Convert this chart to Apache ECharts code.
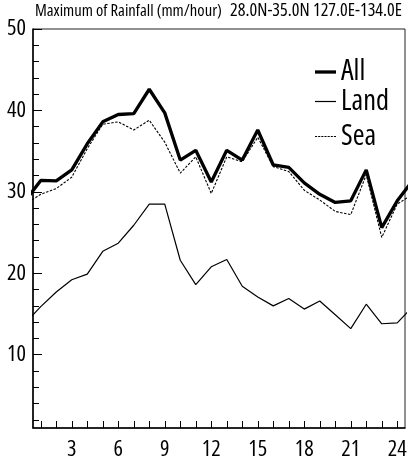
<!DOCTYPE html>
<html>
<head>
<meta charset="utf-8">
<script src="https://cdn.jsdelivr.net/npm/echarts@6/dist/echarts.min.js"></script>
<style>
html,body{margin:0;padding:0;background:#fff;}
#c{width:411px;height:461px;}
</style>
</head>
<body>
<div id="c"></div>
<script>
const hours = [1,2,3,4,5,6,7,8,9,10,11,12,13,14,15,16,17,18,19,20,21,22,23,24];
const allVals  = [31.4,31.35,32.7,35.9,38.6,39.5,39.6,42.6,39.7,33.9,35.1,31.2,35.1,33.9,37.6,33.3,33.0,31.1,29.7,28.7,28.9,32.7,25.6,28.9];
const landVals = [15.9,17.7,19.2,19.9,22.7,23.7,25.9,28.5,28.5,21.6,18.6,20.8,21.7,18.4,17.1,16.0,16.9,15.6,16.6,14.9,13.2,16.2,13.8,13.9];
const seaVals  = [29.7,30.4,31.8,35.3,38.3,38.6,37.6,38.8,36.1,32.3,34.3,29.8,34.3,33.7,36.7,33.1,32.5,30.2,29.0,27.6,27.2,32.1,24.4,28.5];
const xLabelTicks = [3,6,9,12,15,18,21,24];
const yLabelTicks = [10,20,30,40,50];
const yMinorTicks = [2,4,6,8,12,14,16,18,22,24,26,28,32,34,36,38,42,44,46,48];
const titleText = 'Maximum of Rainfall (mm/hour)';
const regionText = '28.0N-35.0N 127.0E-134.0E';

// daily cycle: hour 0 == hour 24, hour 25 == hour 1 (wrap at plot edges)
function cyc(vals){
  const n = vals.length;
  const d = [[hours[0]-1, vals[n-1]]];
  hours.forEach((h,i)=>d.push([h, vals[i]]));
  d.push([hours[n-1]+1, vals[0]]);
  return d;
}

// ---- pick the narrowest installed sans face (reference uses a condensed face)
const mctx = document.createElement('canvas').getContext('2d');
function mw(font, t){ mctx.font = font; return mctx.measureText(t).width; }
const probe = 'Maximum of Rainfall 0123456789';
function avail(fam){
  return mw('100px ' + fam + ', monospace', probe) !== mw('100px monospace', probe) ||
         mw('100px ' + fam + ', serif', probe) !== mw('100px serif', probe);
}
const cands = [{stretch:'normal', fam:'"Liberation Sans"'}];
['"Liberation Sans Narrow"','"Arial Narrow"','"DejaVu Sans Condensed"','"Roboto Condensed"','"Noto Sans Condensed"','"Open Sans Condensed"']
  .forEach(f => cands.push({stretch:'normal', fam:f}));
['ultra-condensed','extra-condensed','condensed','semi-condensed'].forEach(s =>
  ['"Noto Sans"','Roboto','"Open Sans"','"DejaVu Sans"','"Liberation Sans"'].forEach(f => cands.push({stretch:s, fam:f})));
let best = cands[0], bestW = Infinity;
cands.forEach(c => {
  if (!avail(c.fam)) return;
  const w = mw((c.stretch === 'normal' ? '' : c.stretch + ' ') + '100px ' + c.fam, probe);
  if (w < bestW - 0.5) { bestW = w; best = c; }
});
const FAM = best.fam + ', "Liberation Sans", sans-serif';
const FSTYLE = best.stretch === 'normal' ? 'normal' : best.stretch;
function font100(){ return (FSTYLE === 'normal' ? '' : FSTYLE + ' ') + 'normal 100px ' + FAM; }
function m100(t){ mctx.font = font100(); return mctx.measureText(t); }
function sizeFor(t, hGlyph, targetW, capH, alpha, maxW){
  const unit = m100(t).width / 100;
  const mh = m100(hGlyph);
  let hUnit = ((mh.actualBoundingBoxAscent || 0) + (mh.actualBoundingBoxDescent || 0)) / 100;
  if (!(hUnit > 0.4 && hUnit < 1.2)) hUnit = 0.72;
  const sw = targetW / unit, sh = capH / hUnit;
  let s = Math.pow(sw, 1 - alpha) * Math.pow(sh, alpha);
  if (maxW && s * unit > maxW) s = maxW / unit;
  return s;
}
const sTitle  = sizeFor(titleText, 'M', 178, 14, 0.6, 187);
const sRegion = sizeFor(regionText, 'N', 168, 14, 0.6, 172);
const sTick   = sizeFor('40', '40', 13.5, 16.5, 1.0, 20);
const sLeg    = sizeFor('Land', 'L', 45, 20.5, 1.0, 60);
function ts(size, extra){ return Object.assign({fontFamily:FAM, fontStyle:FSTYLE, fontWeight:'normal', fontSize:size, color:'#000'}, extra||{}); }

const chart = echarts.init(document.getElementById('c'), null, {renderer:'canvas'});
const dashIcon = 'path://M0,0h2v1h-2zM3,0h2v1h-2zM6,0h2v1h-2zM9,0h2v1h-2zM12,0h2v1h-2zM15,0h2v1h-2zM18,0h2v1h-2z';
function legendAt(name, center, icon, thick){
  return {
    data:[name], orient:'vertical', left:315, top:center - 18,
    icon:icon, itemWidth:21, itemHeight:thick, padding:0,
    itemStyle:{color:'#000', borderWidth:0},
    textStyle:ts(sLeg, {lineHeight:36})
  };
}
chart.setOption({
  animation:false,
  backgroundColor:'#fff',
  title:[
    {text:titleText, left:35, top:11 - sTitle/2, padding:0, textStyle:ts(sTitle)},
    {text:regionText, right:9, top:11 - sRegion/2, padding:0, textStyle:ts(sRegion)}
  ],
  legend:[legendAt('All',72,'rect',3.3), legendAt('Land',101.5,'rect',1.2), legendAt('Sea',136.5,dashIcon,1.1)],
  grid:{left:33, right:6, top:29, bottom:33, show:true, borderColor:'#222', borderWidth:1},
  xAxis:{
    type:'value', min:0.5, max:24.5,
    axisLine:{lineStyle:{color:'#000', width:1.5}},
    axisTick:{inside:true, length:7, customValues:hours, lineStyle:{color:'#000', width:1}},
    axisLabel:Object.assign({customValues:xLabelTicks, margin:Math.max(4, 21.5 - sTick/2)}, ts(sTick)),
    splitLine:{show:false}
  },
  yAxis:[
    {
      type:'value', min:1, max:50, position:'left',
      axisLine:{show:true, lineStyle:{color:'#000', width:1.5}},
      axisTick:{inside:true, length:9, customValues:yLabelTicks, lineStyle:{color:'#000', width:1}},
      axisLabel:Object.assign({customValues:yLabelTicks, margin:7}, ts(sTick)),
      splitLine:{show:false}
    },
    {
      type:'value', min:1, max:50, position:'left', offset:0,
      axisLine:{show:false},
      axisTick:{inside:true, length:6, customValues:yMinorTicks, lineStyle:{color:'#000', width:1}},
      axisLabel:{show:false},
      splitLine:{show:false}
    }
  ],
  series:[
    {name:'All', type:'line', data:cyc(allVals), symbol:'none', clip:true,
     lineStyle:{color:'#000', width:3.3}, itemStyle:{color:'#000'}, z:5},
    {name:'Land', type:'line', data:cyc(landVals), symbol:'none', clip:true,
     lineStyle:{color:'#000', width:1.2}, itemStyle:{color:'#000'}},
    {name:'Sea', type:'line', data:cyc(seaVals), symbol:'none', clip:true,
     lineStyle:{color:'#000', width:1.1, type:[2.5,1.5]}, itemStyle:{color:'#000'}}
  ]
});
</script>
</body>
</html>
